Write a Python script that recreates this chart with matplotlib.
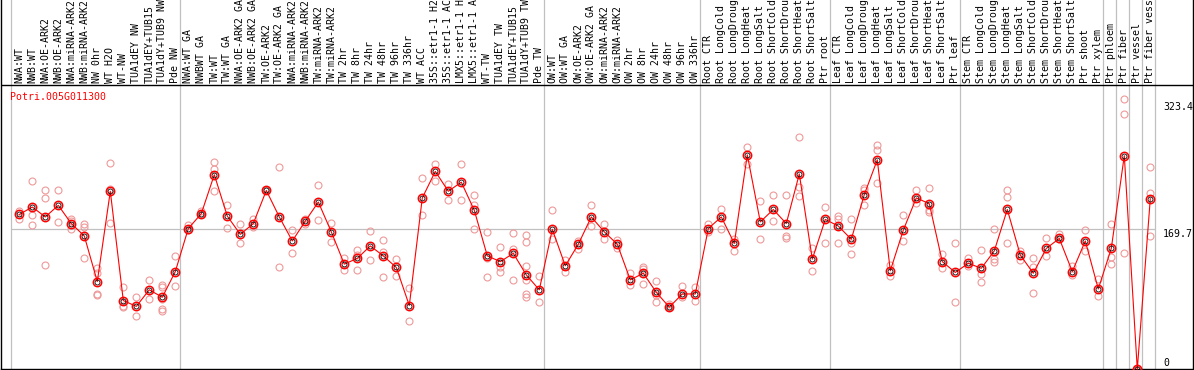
import matplotlib
matplotlib.use("Agg")
import matplotlib.pyplot as plt
import matplotlib.transforms as mtransforms

# sample names, as far as they show in the header
labels = ["NWA:WT", "NWB:WT", "NWA:OE-ARK2", "NWB:OE-ARK2", "NWA:miRNA-ARK2", "NWB:miRNA-ARK2",
          "NW 0hr", "WT H2O", "WT-NW", "TUA1dEY NW", "TUA1dEY+TUB15", "TUA1dY+TUB9 NW", "Pde NW",
          "NWA:WT GA", "NWBWT GA", "TW:WT", "TW:WT GA", "NWA:OE-ARK2 GA", "NWB:OE-ARK2 GA",
          "TW:OE-ARK2", "TW:OE-ARK2 GA", "NWA:miRNA-ARK2", "NWB:miRNA-ARK2", "TW:miRNA-ARK2",
          "TW:miRNA-ARK2", "TW 2hr", "TW 8hr", "TW 24hr", "TW 48hr", "TW 96hr", "TW 336hr",
          "WT ACC", "35S::etr1-1 H2", "35S::etr1-1 AC", "LMX5::etr1-1 H", "LMX5::etr1-1 A",
          "WT-TW", "TUA1dEY TW", "TUA1dEY+TUB15", "TUA1dY+TUB9 TW", "Pde TW",
          "OW:WT", "OW:WT GA", "OW:OE-ARK2", "OW:OE-ARK2 GA", "OW:miRNA-ARK2", "OW:miRNA-ARK2",
          "OW 2hr", "OW 8hr", "OW 24hr", "OW 48hr", "OW 96hr", "OW 336hr",
          "Root CTR", "Root LongCold", "Root LongDroug", "Root LongHeat", "Root LongSalt",
          "Root ShortCold", "Root ShortDrou", "Root ShortHeat", "Root ShortSalt", "Ptr root",
          "Leaf CTR", "Leaf LongCold", "Leaf LongDroug", "Leaf LongHeat", "Leaf LongSalt",
          "Leaf ShortCold", "Leaf ShortDrou", "Leaf ShortHeat", "Leaf ShortSalt", "Ptr leaf",
          "Stem CTR", "Stem LongCold", "Stem LongDroug", "Stem LongHeat", "Stem LongSalt",
          "Stem ShortCold", "Stem ShortDrou", "Stem ShortHeat", "Stem ShortSalt", "Ptr shoot",
          "Ptr xylem", "Ptr phloem", "Ptr fiber", "Ptr vessel", "Ptr fiber vess"]

# mean expression per sample
means = [187, 196, 184, 198, 176, 161, 106, 215, 83, 76,
         96, 87, 118, 170, 188, 235, 185, 163, 176, 216,
         184, 155, 179, 202, 166, 127, 134, 149, 137, 123,
         77, 207, 239, 215, 226, 192, 137, 130, 140, 114,
         96, 169, 125, 151, 184, 166, 151, 108, 116, 93,
         75, 91, 91, 170, 184, 152, 259, 178, 193, 176,
         236, 133, 181, 173, 157, 211, 253, 119, 168, 207,
         200, 130, 117, 128, 122, 143, 193, 138, 116, 146,
         158, 118, 155, 97, 146, 258, 0, 206]

# single replicates per sample
reps = [[191, 182], [228, 186, 174], [216, 207, 126], [217, 178], [181, 179, 169],
        [175, 172, 135], [122, 116, 91, 90], [249, 218, 177], [99, 75, 76], [87, 64],
        [108, 85], [102, 99, 85, 73, 70], [137, 100], [174, 168], [191, 187],
        [250, 242, 215], [198, 171], [175, 152], [181, 172], [217, 216],
        [244, 123], [168, 141], [182, 176], [223, 180], [177, 154],
        [134, 120], [144, 120, 138], [167, 132], [156, 142, 112], [133, 113],
        [98, 58], [231, 186], [248, 228], [224, 204], [248, 204],
        [210, 198, 170], [166, 134, 111], [148, 124, 118], [165, 145, 108],
        [162, 154, 125, 108, 91, 87], [113, 81], [192, 157], [132, 118], [155, 145],
        [198, 173], [176, 157], [156, 146], [116, 102], [124, 121, 103],
        [107, 90, 81], [79, 75], [101, 87], [99, 82], [176, 166], [194, 169],
        [157, 143], [269, 248], [203, 157], [210, 179], [211, 161, 159],
        [281, 220, 209], [146, 119], [196, 152], [185, 182, 152], [181, 152, 139],
        [219, 199, 216], [271, 265, 225], [126, 113], [186, 155], [217, 201],
        [219, 190, 192], [139, 122], [153, 81], [135, 125], [144, 115, 106],
        [169, 133, 129], [217, 208, 153], [143, 132], [134, 124, 92], [158, 137],
        [164, 157], [125, 114], [168, 143], [109, 89], [175, 136, 127],
        [327, 308, 141], [0], [244, 213, 161]]

group_starts = [0, 13, 41, 53, 63, 73, 84, 85, 86, 87, 88]
gene = "Potri.005G011300"
ref_value = 169.7
max_value = 323.4

mono = "DejaVu Sans Mono"
fs = 7.1
grey = "#c0c0c0"

fig = plt.figure(figsize=(11.94, 3.70), dpi=100)
ax = fig.add_axes([1 / 1194, 1 / 370, 1192 / 1194, 369 / 370])
ax.set_xlim(-1.408, 90.285)
ax.set_ylim(0.36, 446.0)
ax.set_xticks([])
ax.set_yticks([])
ax.spines["top"].set_visible(False)
for s in ["left", "right", "bottom"]:
    ax.spines[s].set_linewidth(1.0)

header_y = 343.4

# group dividers and reference line
for g in group_starts:
    ax.axvline(g - 0.62, color=grey, lw=0.9, zorder=1)
ax.hlines(ref_value, group_starts[0] - 0.62, group_starts[-1] - 0.62, color=grey, lw=0.9, zorder=1)
ax.axhline(header_y, color="black", lw=1.0, zorder=2)

# replicates
rx, ry = [], []
for i, r in enumerate(reps):
    for v in r:
        rx.append(i)
        ry.append(v)
ax.plot(rx, ry, "o", ms=5.0, mfc="none", mec="#ee9999", mew=0.8, zorder=3, clip_on=False)

# means
x = list(range(len(means)))
ax.plot(x, means, "-", color="red", lw=0.8, zorder=4, clip_on=False)
ax.plot(x, means, "o", ms=6.0, mfc="none", mec="red", mew=1.1, zorder=5, clip_on=False)
ax.plot(x, means, "o", ms=3.6, mfc="none", mec="black", mew=0.6, zorder=6, clip_on=False)

# header labels
for i, lab in enumerate(labels):
    ax.text(i, header_y + 2.4, lab, rotation=90, ha="center", va="bottom",
            fontsize=fs, family=mono, color="black", clip_on=False)

ax.text(0.0075, 329.2, gene, transform=mtransforms.blended_transform_factory(ax.transAxes, ax.transData),
        ha="left", va="center", fontsize=fs, family=mono, color="red")

tr = mtransforms.blended_transform_factory(ax.transAxes, ax.transData)
ax.text(0.9748, max_value, "%.1f" % max_value, transform=tr, ha="left", va="top", fontsize=fs, family=mono)
ax.text(0.9748, ref_value, "%.1f" % ref_value, transform=tr, ha="left", va="top", fontsize=fs, family=mono)
ax.text(0.9748, 2, "0", transform=tr, ha="left", va="bottom", fontsize=fs, family=mono)

fig.savefig("out.png", dpi=100)
